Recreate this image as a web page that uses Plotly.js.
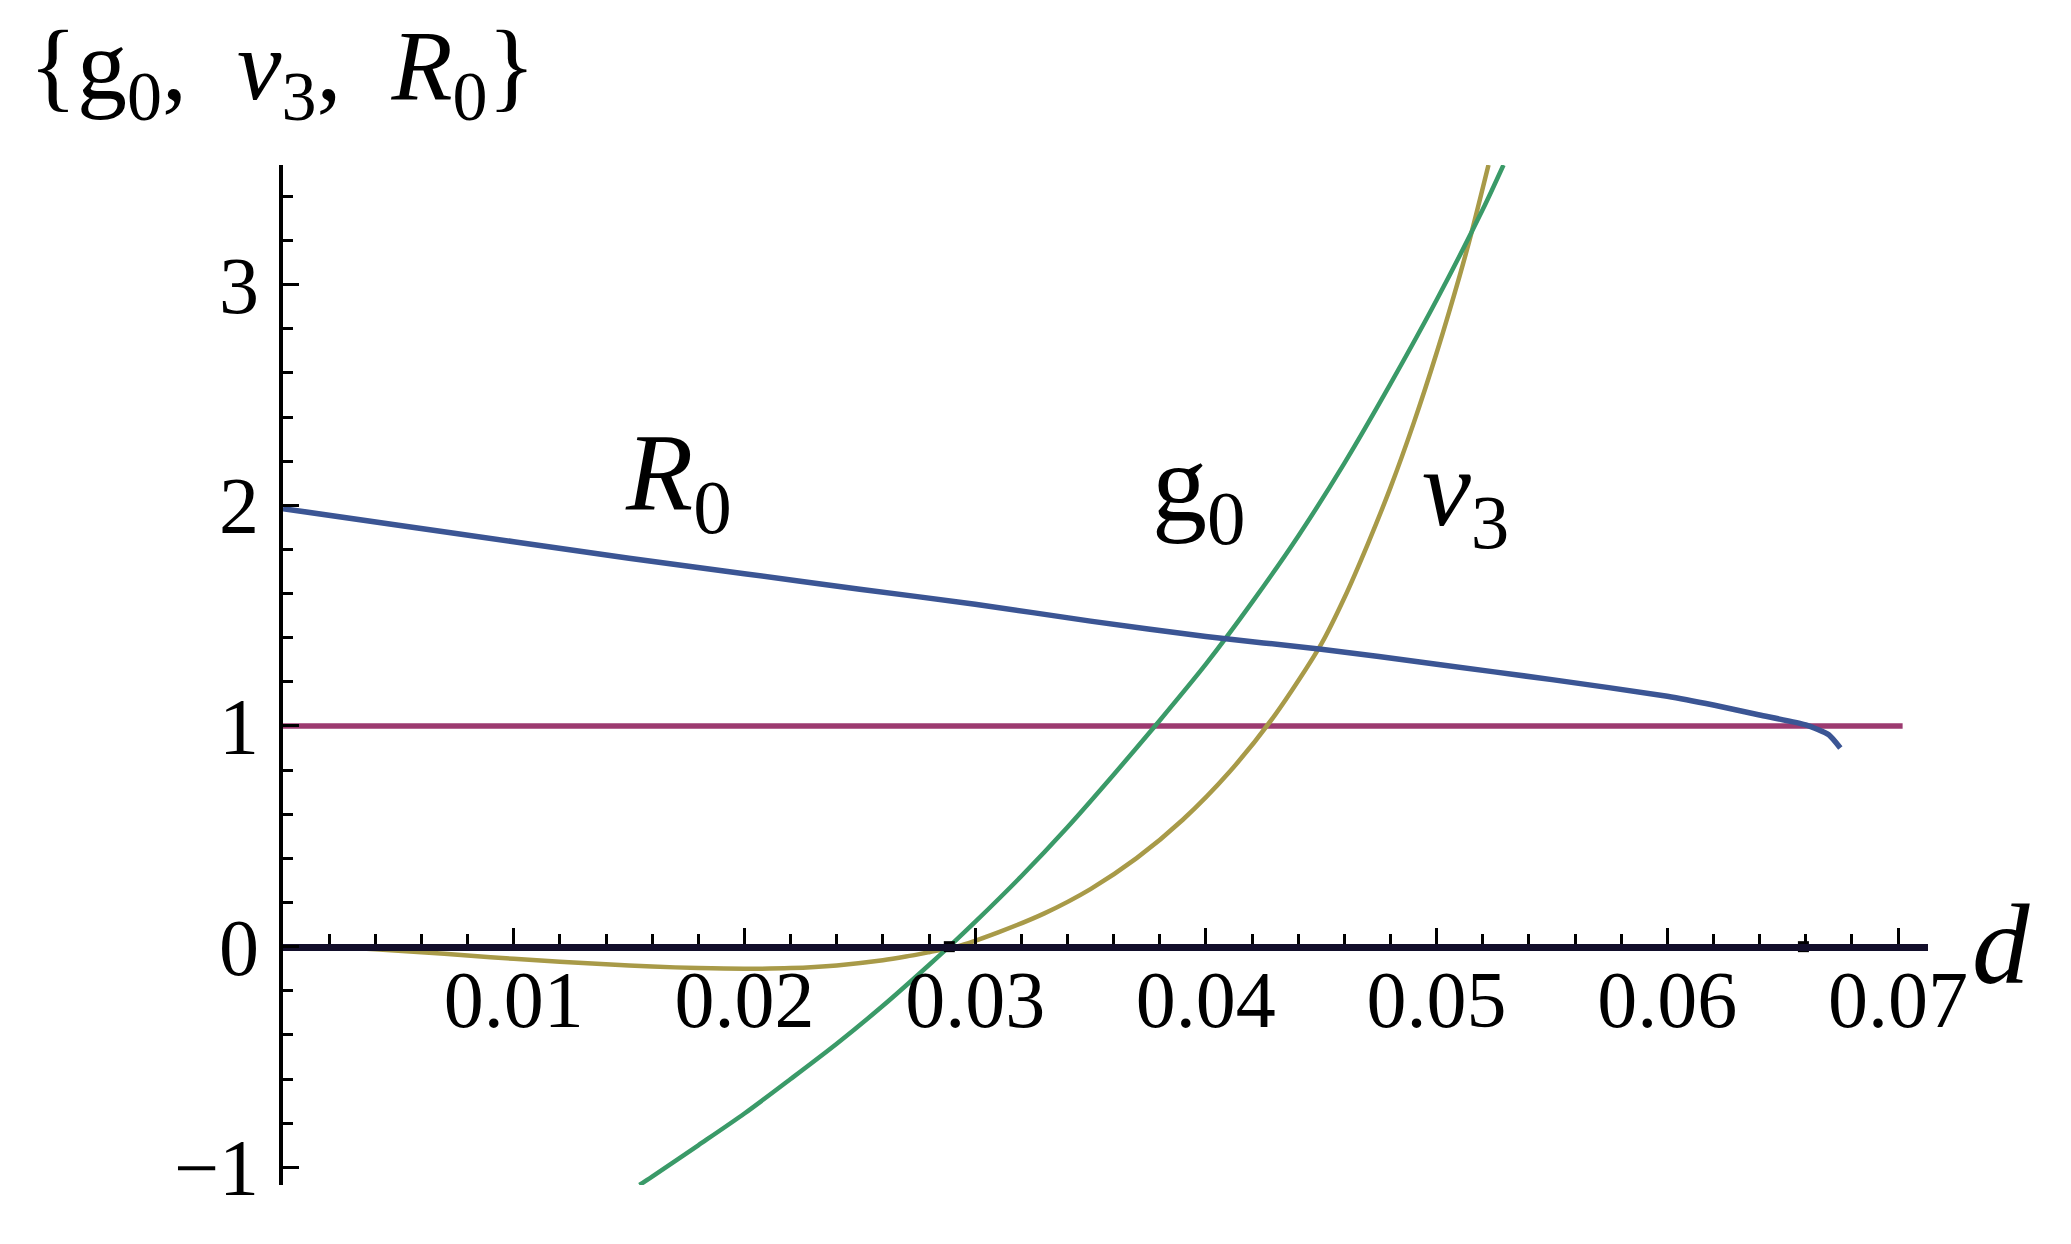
<!DOCTYPE html>
<html>
<head>
<meta charset="utf-8">
<script src="https://cdn.plot.ly/plotly-3.0.1.min.js"></script>
<style>html,body{margin:0;padding:0;background:#fff;}#chart{width:2071px;height:1244px;}</style>
</head>
<body>
<div id="chart"></div>
<script>
// ---- data ----
const dR0 = [0, 0.005, 0.010, 0.015, 0.020, 0.025, 0.030, 0.035, 0.040, 0.045, 0.050, 0.055, 0.060, 0.062, 0.064, 0.066, 0.067, 0.0675];
const R0  = [1.985, 1.91, 1.835, 1.76, 1.69, 1.62, 1.552, 1.475, 1.405, 1.348, 1.28, 1.21, 1.135, 1.095, 1.05, 1.005, 0.96, 0.90];

const dG0 = [0.01545, 0.016, 0.018, 0.020, 0.022, 0.024, 0.026, 0.028, 0.02887, 0.030, 0.032, 0.034, 0.036, 0.038, 0.040, 0.042, 0.044, 0.046, 0.048, 0.050, 0.052, 0.0529];
const G0  = [-1.08, -1.042, -0.90, -0.756, -0.60, -0.44, -0.268, -0.083, 0, 0.112, 0.319, 0.541, 0.779, 1.025, 1.28, 1.56, 1.86, 2.19, 2.55, 2.93, 3.34, 3.542];

const dV3 = [0, 0.002, 0.004, 0.006, 0.008, 0.010, 0.012, 0.014, 0.016, 0.018, 0.020, 0.022, 0.024, 0.026, 0.027, 0.028, 0.0292, 0.031, 0.033, 0.035, 0.037, 0.039, 0.041, 0.043, 0.045, 0.046, 0.047, 0.048, 0.049, 0.050, 0.051, 0.0515, 0.05225];
const V3  = [0, -0.003, -0.012, -0.025, -0.04, -0.055, -0.068, -0.08, -0.09, -0.097, -0.1, -0.097, -0.085, -0.062, -0.045, -0.025, 0, 0.065, 0.151, 0.261, 0.401, 0.575, 0.789, 1.05, 1.371, 1.58, 1.82, 2.08, 2.37, 2.69, 3.04, 3.23, 3.542];

const dOne = [0, 0.0702];
const one  = [1, 1];

const markD = [0.02888, 0.0659];
const markY = [0, 0];

const xTickVals = [0.01, 0.02, 0.03, 0.04, 0.05, 0.06, 0.07];
const xTickText = ["0.01", "0.02", "0.03", "0.04", "0.05", "0.06", "0.07"];
const yTickVals = [-1, 0, 1, 2, 3];
const yTickText = ["\u22121", "0", "1", "2", "3"];

const xRange = [0, 0.0713];
const yRange = [-1.08, 3.542];

const curveLabels = [
  {text: "<i>R</i><sub>0</sub>", x: 0.01716, y: 2.11},
  {text: "g<sub>0</sub>", x: 0.0397, y: 2.06},
  {text: "<i>v</i><sub>3</sub>", x: 0.05124, y: 2.04}
];
const axisTitleY = "{g<sub>0</sub>,\u00a0 <i>v</i><sub>3</sub>,\u00a0 <i>R</i><sub>0</sub>}";
const axisTitleX = "<i>d</i>";

// ---- chart ----
const serif = "Liberation Serif, Times New Roman, serif";
const traces = [
  {x: dOne, y: one, mode: "lines", line: {color: "#9c3a70", width: 5.5}},
  {x: dV3, y: V3, mode: "lines", line: {color: "#a89a48", width: 4.5, shape: "spline", smoothing: 0.8}},
  {x: dG0, y: G0, mode: "lines", line: {color: "#3a9a68", width: 4.5, shape: "spline", smoothing: 0.8}},
  {x: dR0, y: R0, mode: "lines", line: {color: "#3b5594", width: 5.5, shape: "spline", smoothing: 0.5}},
  {x: markD, y: markY, mode: "markers", marker: {symbol: "square", size: 11, color: "#000"}, cliponaxis: false}
];

const zeroPos = (0 - yRange[0]) / (yRange[1] - yRange[0]);

const annotations = curveLabels.map(l => ({
  x: l.x, y: l.y, xref: "x", yref: "y", text: l.text, showarrow: false,
  font: {family: serif, size: 110, color: "#000"}
}));
annotations.push({
  x: 1.0444, y: 0.236, xref: "paper", yref: "paper", xanchor: "center", yanchor: "middle",
  text: axisTitleX, showarrow: false,
  font: {family: serif, size: 115, color: "#000"}
});
annotations.push({
  x: -0.1556, y: 1.091, xref: "paper", yref: "paper", xanchor: "left", yanchor: "middle",
  text: axisTitleY, showarrow: false,
  font: {family: serif, size: 100, color: "#000"}
});

const layout = {
  width: 2071, height: 1244,
  margin: {l: 283, r: 143, t: 165, b: 59},
  paper_bgcolor: "#fff", plot_bgcolor: "#fff",
  showlegend: false,
  font: {family: serif, color: "#000"},
  xaxis: {
    range: xRange, anchor: "free", position: zeroPos,
    showgrid: false, zeroline: false,
    showline: true, linecolor: "#120e2a", linewidth: 7,
    ticks: "inside", ticklen: 16, tickwidth: 3, tickcolor: "#000",
    tickvals: xTickVals, ticktext: xTickText,
    tickfont: {family: serif, size: 80, color: "#000"},
    ticklabelstandoff: -20,
    minor: {ticks: "inside", dtick: 0.002, tick0: 0, ticklen: 10, tickwidth: 3, tickcolor: "#000", showgrid: false}
  },
  yaxis: {
    range: yRange,
    showgrid: false, zeroline: false,
    showline: true, linecolor: "#000", linewidth: 4,
    ticks: "inside", ticklen: 16, tickwidth: 3, tickcolor: "#000",
    tickvals: yTickVals, ticktext: yTickText,
    tickfont: {family: serif, size: 80, color: "#000"},
    ticklabelstandoff: 4,
    minor: {ticks: "inside", dtick: 0.2, tick0: 0, ticklen: 10, tickwidth: 3, tickcolor: "#000", showgrid: false}
  },
  annotations: annotations
};

Plotly.newPlot("chart", traces, layout, {staticPlot: true, displayModeBar: false});
</script>
</body>
</html>
